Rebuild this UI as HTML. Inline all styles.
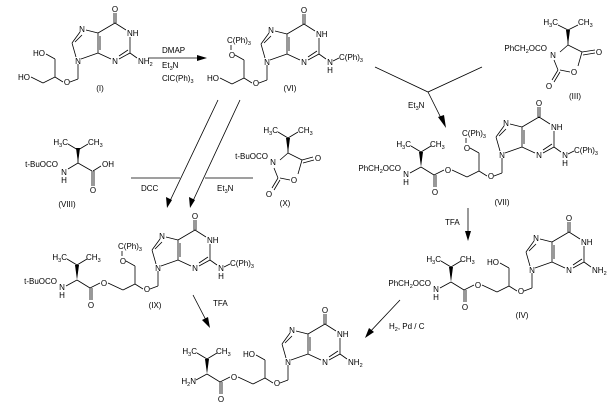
<!DOCTYPE html>
<html><head><meta charset="utf-8"><style>
html,body{margin:0;padding:0;background:#fff;}
svg{display:block;}
text{font-family:"Liberation Sans",sans-serif;font-size:8px;fill:#000;}
.m{text-anchor:middle}.e{text-anchor:end}
path,line{stroke:#000;stroke-width:0.8;fill:none;}
tspan.s{font-size:5.5px;}
</style></head><body>
<svg width="612" height="411" viewBox="0 0 612 411" xmlns="http://www.w3.org/2000/svg">
<defs>
<path id="ring" d="M3,-2 L20,-8 M20,-8 L20,-28 M22,-11 L22,-25 M20,-28 L37,-38 M36,-38 L36,-48 M38,-38 L38,-48 M37,-38 L48,-31 M52,-24 L52,-8 M52,-8 L41,-2 M50,-11 L41,-5 M33,-2 L20,-8 M20,-28 L8,-31 M2,-29 L-6,-18 M4,-26 L-3,-19 M-6,-18 L-2,-4 M52,-8 L59,-3 M0,3 L0,18 M0,18 L-8,21 M-15,21 L-23,16 M-23,16 L-23,-2 M-23,16 L-35,22 M-23,-2 L-32,-7"/>
<path id="ester" d="M-35,22 L-50,15 M-58,15 L-68,20 M-68,20 L-68,32 M-66,20 L-66,32 M-68,20 L-81,12 M-81,-3 L-91,-9 M-81,-3 L-71,-9 M-81,12 L-92,18"/>
<polygon id="wedge" points="-81,12 -83,-3 -79,-3" fill="#000"/>
</defs>

<!-- Compound I -->
<g transform="translate(78,61)">
<use href="#ring"/>
<path d="M-35,22 L-47,16"/>
<text class="m" x="0" y="3">N</text><text class="m" x="37" y="3">N</text><text class="m" x="4" y="-29">N</text>
<text class="m" x="37" y="-49">O</text><text x="49" y="-25">NH</text>
<text x="60" y="3">NH<tspan class="s" dy="2">2</tspan></text>
<text class="m" x="-11" y="24">O</text>
<text class="e" x="-33" y="-5">HO</text><text class="e" x="-48" y="19">HO</text>
<text class="m" x="22" y="30">(I)</text>
</g>

<!-- reagents I -> VI -->
<line x1="148" y1="58" x2="205" y2="58"/>
<polygon points="207,58 197,55 197,61" fill="#000"/>
<text x="162" y="53">DMAP</text>
<text x="162" y="68">Et<tspan class="s" dy="2">3</tspan><tspan dy="-2">N</tspan></text>
<text x="162" y="81">ClC(Ph)<tspan class="s" dy="2">3</tspan></text>

<!-- Compound VI -->
<g transform="translate(267,62)">
<use href="#ring"/>
<path d="M-35,22 L-47,16 M-36,-12 L-36,-17 M66,-1 L72,-4"/>
<text class="m" x="0" y="3">N</text><text class="m" x="37" y="3">N</text><text class="m" x="4" y="-29">N</text>
<text class="m" x="37" y="-49">O</text><text x="49" y="-25">NH</text>
<text class="m" x="63" y="3">N</text><text class="m" x="63" y="11">H</text>
<text x="72" y="-2">C(Ph)<tspan class="s" dy="2">3</tspan></text>
<text class="m" x="-11" y="24">O</text>
<text class="m" x="-35" y="-4">O</text>
<text x="-40" y="-19">C(Ph)<tspan class="s" dy="2">3</tspan></text>
<text class="e" x="-48" y="19">HO</text>
<text class="m" x="23" y="29">(VI)</text>
</g>

<!-- Compound III -->
<g>
<path d="M560,52 L568,45 M568,45 L568,30 M568,30 L558,25 M568,30 L578,25 M568,45 L582,52 M582,52 L595,50 M583,55 L595,53 M582,52 L578,66 M570,72 L560,70 M558,70 L552,80 M560,72 L554,82 M554,60 L558,70"/>
<polygon points="568,45 566,30 570,30" fill="#000"/>
<text class="m" x="553" y="58">N</text>
<text class="m" x="574" y="75">O</text>
<text class="m" x="599" y="55">O</text>
<text class="m" x="549" y="89">O</text>
<text class="e" x="547" y="51">PhCH<tspan class="s" dy="2">2</tspan><tspan dy="-2">OCO</tspan></text>
<text class="e" x="558" y="25">H<tspan class="s" dy="2">3</tspan><tspan dy="-2">C</tspan></text>
<text x="578" y="25">CH<tspan class="s" dy="2">3</tspan></text>
<text class="m" x="575" y="99">(III)</text>
</g>

<!-- VI -> VII arrow -->
<path d="M375,67 L428,92 L482,67 M428,92 L444,124"/>
<polygon points="446,128 438,117 444,115" fill="#000"/>
<text x="408" y="108">Et<tspan class="s" dy="2">3</tspan><tspan dy="-2">N</tspan></text>

<!-- Compound VII -->
<g transform="translate(502,155)">
<use href="#ring"/><use href="#ester"/><use href="#wedge"/>
<path d="M-36,-12 L-36,-17 M66,-1 L72,-4"/>
<text class="m" x="0" y="3">N</text><text class="m" x="37" y="3">N</text><text class="m" x="4" y="-29">N</text>
<text class="m" x="37" y="-49">O</text><text x="49" y="-25">NH</text>
<text class="m" x="63" y="3">N</text><text class="m" x="63" y="11">H</text>
<text x="72" y="-2">C(Ph)<tspan class="s" dy="2">3</tspan></text>
<text class="m" x="-11" y="24">O</text>
<text class="m" x="-35" y="-4">O</text>
<text x="-40" y="-19">C(Ph)<tspan class="s" dy="2">3</tspan></text>
<text class="m" x="-54" y="18">O</text><text class="m" x="-67" y="40">O</text>
<text class="m" x="-96" y="22">N</text><text class="m" x="-96" y="30">H</text>
<text class="e" x="-101" y="16">PhCH<tspan class="s" dy="2">2</tspan><tspan dy="-2">OCO</tspan></text>
<text class="e" x="-91" y="-8">H<tspan class="s" dy="2">3</tspan><tspan dy="-2">C</tspan></text>
<text x="-72" y="-8">CH<tspan class="s" dy="2">3</tspan></text>
<text class="m" x="0" y="50">(VII)</text>
</g>

<!-- Compound VIII -->
<g>
<path d="M78,163 L78,150 M78,150 L68,144 M78,150 L88,144 M78,163 L68,169 M78,163 L92,171 M92,171 L92,186 M94,171 L94,186 M93,171 L101,166"/>
<polygon points="78,163 76,148 80,148" fill="#000"/>
<text class="m" x="64" y="175">N</text><text class="m" x="64" y="183">H</text>
<text class="e" x="58" y="167">t-BuOCO</text>
<text x="102" y="167">OH</text>
<text class="m" x="93" y="193">O</text>
<text class="e" x="68" y="145">H<tspan class="s" dy="2">3</tspan><tspan dy="-2">C</tspan></text>
<text x="88" y="145">CH<tspan class="s" dy="2">3</tspan></text>
<text class="m" x="67" y="207">(VIII)</text>
</g>

<!-- Compound X -->
<g>
<path d="M280,160 L288,153 M288,153 L288,138 M288,138 L278,132 M288,138 L298,132 M288,153 L302,160 M302,160 L313,157 M303,163 L314,160 M302,160 L298,174 M290,180 L280,178 M278,178 L272,188 M280,180 L274,190 M274,168 L278,178"/>
<polygon points="288,153 286,138 290,138" fill="#000"/>
<text class="m" x="273" y="165">N</text>
<text class="m" x="294" y="183">O</text>
<text class="m" x="318" y="161">O</text>
<text class="m" x="269" y="197">O</text>
<text class="e" x="268" y="159">t-BuOCO</text>
<text class="e" x="278" y="133">H<tspan class="s" dy="2">3</tspan><tspan dy="-2">C</tspan></text>
<text x="298" y="133">CH<tspan class="s" dy="2">3</tspan></text>
<text class="m" x="285" y="206">(X)</text>
</g>

<!-- arrows to IX -->
<path d="M218,100 L169,203 M240,100 L192,203 M131,178 L180,178 M205,178 L253,178"/>
<polygon points="167,208 166,197 172,200" fill="#000"/>
<polygon points="190,208 189,197 195,200" fill="#000"/>
<text x="141" y="191">DCC</text>
<text x="217" y="191">Et<tspan class="s" dy="2">3</tspan><tspan dy="-2">N</tspan></text>

<!-- Compound IX -->
<g transform="translate(158,268)">
<use href="#ring"/><use href="#ester"/><use href="#wedge"/>
<path d="M-36,-12 L-36,-17 M66,-1 L72,-4"/>
<text class="m" x="0" y="3">N</text><text class="m" x="37" y="3">N</text><text class="m" x="4" y="-29">N</text>
<text class="m" x="37" y="-49">O</text><text x="49" y="-25">NH</text>
<text class="m" x="63" y="3">N</text><text class="m" x="63" y="11">H</text>
<text x="72" y="-2">C(Ph)<tspan class="s" dy="2">3</tspan></text>
<text class="m" x="-11" y="24">O</text>
<text class="m" x="-35" y="-4">O</text>
<text x="-40" y="-19">C(Ph)<tspan class="s" dy="2">3</tspan></text>
<text class="m" x="-54" y="18">O</text><text class="m" x="-67" y="40">O</text>
<text class="m" x="-96" y="22">N</text><text class="m" x="-96" y="30">H</text>
<text class="e" x="-101" y="16">t-BuOCO</text>
<text class="e" x="-91" y="-8">H<tspan class="s" dy="2">3</tspan><tspan dy="-2">C</tspan></text>
<text x="-72" y="-8">CH<tspan class="s" dy="2">3</tspan></text>
<text class="m" x="-3" y="40">(IX)</text>
</g>

<!-- IX -> final -->
<line x1="193" y1="295" x2="208" y2="324"/>
<polygon points="210,328 202,320 208,317" fill="#000"/>
<text x="213" y="306">TFA</text>

<!-- VII -> IV -->
<line x1="468" y1="208" x2="468" y2="236"/>
<polygon points="468,241 465,231 471,231" fill="#000"/>
<text x="445" y="225">TFA</text>

<!-- Compound IV -->
<g transform="translate(532,270)">
<use href="#ring"/><use href="#ester"/><use href="#wedge"/>
<text class="m" x="0" y="3">N</text><text class="m" x="37" y="3">N</text><text class="m" x="4" y="-29">N</text>
<text class="m" x="37" y="-49">O</text><text x="49" y="-25">NH</text>
<text x="60" y="3">NH<tspan class="s" dy="2">2</tspan></text>
<text class="m" x="-11" y="24">O</text>
<text class="e" x="-33" y="-5">HO</text>
<text class="m" x="-54" y="18">O</text><text class="m" x="-67" y="40">O</text>
<text class="m" x="-96" y="22">N</text><text class="m" x="-96" y="30">H</text>
<text class="e" x="-101" y="16">PhCH<tspan class="s" dy="2">2</tspan><tspan dy="-2">OCO</tspan></text>
<text class="e" x="-91" y="-8">H<tspan class="s" dy="2">3</tspan><tspan dy="-2">C</tspan></text>
<text x="-72" y="-8">CH<tspan class="s" dy="2">3</tspan></text>
<text class="m" x="-10" y="48">(IV)</text>
</g>

<!-- IV -> final -->
<line x1="400" y1="300" x2="368" y2="334"/>
<polygon points="365,338 369,328 374,332" fill="#000"/>
<text x="389" y="329">H<tspan class="s" dy="2">2</tspan><tspan dy="-2">, Pd / C</tspan></text>

<!-- Final compound -->
<g transform="translate(288,362)">
<use href="#ring"/><use href="#ester"/><use href="#wedge"/>
<text class="m" x="0" y="3">N</text><text class="m" x="37" y="3">N</text><text class="m" x="4" y="-29">N</text>
<text class="m" x="37" y="-49">O</text><text x="49" y="-25">NH</text>
<text x="60" y="3">NH<tspan class="s" dy="2">2</tspan></text>
<text class="m" x="-11" y="24">O</text>
<text class="e" x="-33" y="-5">HO</text>
<text class="m" x="-54" y="18">O</text><text class="m" x="-67" y="40">O</text>
<text class="e" x="-92" y="22">H<tspan class="s" dy="2">2</tspan><tspan dy="-2">N</tspan></text>
<text class="e" x="-91" y="-8">H<tspan class="s" dy="2">3</tspan><tspan dy="-2">C</tspan></text>
<text x="-72" y="-8">CH<tspan class="s" dy="2">3</tspan></text>
</g>
</svg>
</body></html>
